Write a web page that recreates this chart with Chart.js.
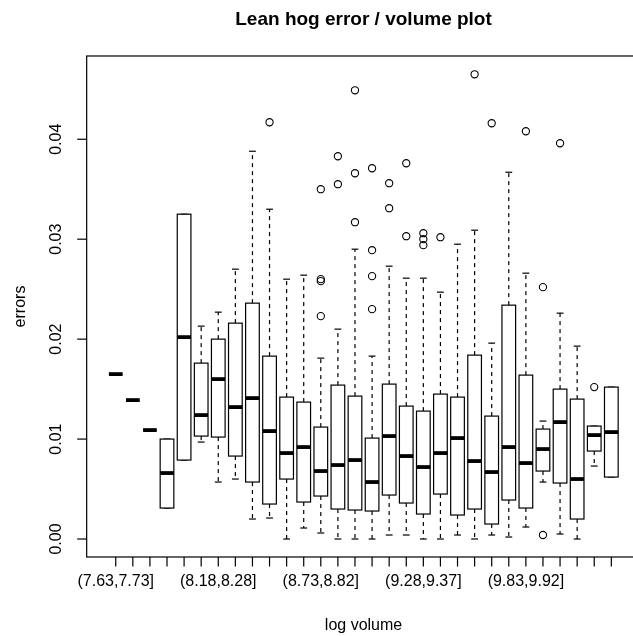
<!DOCTYPE html>
<html>
<head>
<meta charset="utf-8">
<script src="https://cdn.jsdelivr.net/npm/chart.js@4/dist/chart.umd.min.js"></script>
<style>
  html, body { margin: 0; padding: 0; background: #fff; }
  canvas { display: block; }
</style>
</head>
<body>
<canvas id="chart" width="633" height="636"></canvas>
<script>
// log volume bins (cut into 30 intervals)
var groups = ['(7.63,7.73]', '(7.73,7.82]', '(7.82,7.91]', '(7.91,8]', '(8,8.09]', '(8.09,8.18]',
  '(8.18,8.28]', '(8.28,8.37]', '(8.37,8.46]', '(8.46,8.55]', '(8.55,8.64]', '(8.64,8.73]',
  '(8.73,8.82]', '(8.82,8.92]', '(8.92,9.01]', '(9.01,9.1]', '(9.1,9.19]', '(9.19,9.28]',
  '(9.28,9.37]', '(9.37,9.47]', '(9.47,9.56]', '(9.56,9.65]', '(9.65,9.74]', '(9.74,9.83]',
  '(9.83,9.92]', '(9.92,10]', '(10,10.1]', '(10.1,10.2]', '(10.2,10.3]', '(10.3,10.4]'];

// five number summaries per bin
var lowWhisker = [0.0165, 0.0139, 0.0109, 0.0031, 0.0079, 0.0097, 0.0057, 0.0060, 0.0020, 0.0021,
  0.0000, 0.0011, 0.0006, 0.0000, 0.0000, 0.0000, 0.0004, 0.0004, 0.0000, 0.0000,
  0.0004, 0.0000, 0.0004, 0.0002, 0.0012, 0.0057, 0.0005, 0.0000, 0.0073, 0.0062];
var lowerHinge = [0.0165, 0.0139, 0.0109, 0.0031, 0.0079, 0.0103, 0.0102, 0.0083, 0.0057, 0.0035,
  0.0060, 0.0037, 0.0043, 0.0030, 0.0029, 0.0028, 0.0044, 0.0036, 0.0025, 0.0045,
  0.0024, 0.0030, 0.0015, 0.0039, 0.0031, 0.0068, 0.0056, 0.0020, 0.0088, 0.0062];
var medians = [0.0165, 0.0139, 0.0109, 0.0066, 0.0202, 0.0124, 0.0160, 0.0132, 0.0141, 0.0108,
  0.0086, 0.0092, 0.0068, 0.0074, 0.0079, 0.0057, 0.0103, 0.0083, 0.0072, 0.0086,
  0.0101, 0.0078, 0.0067, 0.0092, 0.0076, 0.0090, 0.0117, 0.0060, 0.0104, 0.0107];
var upperHinge = [0.0165, 0.0139, 0.0109, 0.0100, 0.0325, 0.0176, 0.0200, 0.0216, 0.0236, 0.0183,
  0.0142, 0.0137, 0.0112, 0.0154, 0.0143, 0.0101, 0.0155, 0.0133, 0.0128, 0.0145,
  0.0142, 0.0184, 0.0123, 0.0234, 0.0164, 0.0110, 0.0150, 0.0140, 0.0113, 0.0152];
var highWhisker = [0.0165, 0.0139, 0.0109, 0.0100, 0.0325, 0.0213, 0.0227, 0.0270, 0.0388, 0.0330,
  0.0260, 0.0264, 0.0181, 0.0210, 0.0290, 0.0183, 0.0273, 0.0261, 0.0261, 0.0247,
  0.0295, 0.0309, 0.0196, 0.0367, 0.0266, 0.0118, 0.0226, 0.0193, 0.0113, 0.0152];

// outliers: bin number (1-based) and value
var outlierBin = [10, 13, 13, 13, 13, 14, 14, 15, 15, 15, 16, 16, 16, 16,
  17, 17, 18, 18, 19, 19, 19, 20, 22, 23, 25, 26, 26, 27, 29];
var outlierValue = [0.0417, 0.0350, 0.0260, 0.0258, 0.0223, 0.0383, 0.0355, 0.0449, 0.0366, 0.0317,
  0.0371, 0.0289, 0.0263, 0.0230, 0.0356, 0.0331, 0.0376, 0.0303, 0.0306, 0.0300, 0.0294,
  0.0302, 0.0465, 0.0416, 0.0408, 0.0252, 0.0004, 0.0396, 0.0152];

var yTicks = [0, 0.01, 0.02, 0.03, 0.04];
var yTickLabels = ['0.00', '0.01', '0.02', '0.03', '0.04'];
var xLabelStep = 6;

var FONT = '"Liberation Sans", Arial, Helvetica, sans-serif';

function seg(ctx, x1, y1, x2, y2) {
  ctx.beginPath();
  ctx.moveTo(x1, y1);
  ctx.lineTo(x2, y2);
  ctx.stroke();
}

var boxPlugin = {
  id: 'boxes',
  beforeDatasetsDraw: function (chart) {
    var ctx = chart.ctx, x = chart.scales.x, y = chart.scales.y;
    var half = x.getPixelForValue(1.4) - x.getPixelForValue(1);
    var staple = half / 2;
    ctx.save();
    ctx.strokeStyle = '#000';
    for (var i = 0; i < medians.length; i++) {
      var cx = x.getPixelForValue(i + 1);
      var yLo = y.getPixelForValue(lowWhisker[i]);
      var yQ1 = y.getPixelForValue(lowerHinge[i]);
      var yMed = y.getPixelForValue(medians[i]);
      var yQ3 = y.getPixelForValue(upperHinge[i]);
      var yHi = y.getPixelForValue(highWhisker[i]);

      ctx.lineWidth = 1.2;
      ctx.setLineDash([4, 4]);
      if (yHi < yQ3) seg(ctx, cx, yQ3, cx, yHi);
      if (yLo > yQ1) seg(ctx, cx, yQ1, cx, yLo);
      ctx.setLineDash([]);
      seg(ctx, cx - staple, yHi, cx + staple, yHi);
      seg(ctx, cx - staple, yLo, cx + staple, yLo);

      ctx.fillStyle = '#fff';
      ctx.fillRect(cx - half, yQ3, 2 * half, yQ1 - yQ3);
      ctx.strokeRect(cx - half, yQ3, 2 * half, yQ1 - yQ3);

      ctx.lineWidth = 3.8;
      seg(ctx, cx - half, yMed, cx + half, yMed);
    }
    ctx.restore();
  },
  afterDraw: function (chart) {
    var ctx = chart.ctx, x = chart.scales.x, y = chart.scales.y;
    var left = x.getPixelForValue(-0.7), right = x.getPixelForValue(31.7);
    var top = chart.chartArea.top, bottom = chart.chartArea.bottom;
    ctx.save();
    ctx.strokeStyle = '#000';
    ctx.fillStyle = '#000';
    ctx.lineWidth = 1.2;
    ctx.strokeRect(left, top, right - left, bottom - top);

    // y axis
    ctx.font = '16px ' + FONT;
    ctx.textAlign = 'center';
    ctx.textBaseline = 'middle';
    yTicks.forEach(function (v, k) {
      var py = y.getPixelForValue(v);
      seg(ctx, left, py, left - 9.5, py);
      ctx.save();
      ctx.translate(57, py);
      ctx.rotate(-Math.PI / 2);
      ctx.fillText(yTickLabels[k], 0, 0);
      ctx.restore();
    });

    // x axis
    groups.forEach(function (g, i) {
      var px = x.getPixelForValue(i + 1);
      seg(ctx, px, bottom, px, bottom + 9.5);
      if (i % xLabelStep === 0) ctx.fillText(g, px, 582);
    });

    ctx.fillText('log volume', (left + right) / 2, 626);
    ctx.save();
    ctx.translate(21, (top + bottom) / 2);
    ctx.rotate(-Math.PI / 2);
    ctx.fillText('errors', 0, 0);
    ctx.restore();

    ctx.font = 'bold 19px ' + FONT;
    ctx.fillText('Lean hog error / volume plot', (left + right) / 2, 20);
    ctx.restore();
  }
};

var points = outlierBin.map(function (b, k) { return { x: b, y: outlierValue[k] }; });

new Chart(document.getElementById('chart'), {
  type: 'scatter',
  data: {
    datasets: [{
      data: points,
      pointStyle: 'circle',
      pointRadius: 3.6,
      pointBorderWidth: 1.1,
      pointBorderColor: '#000',
      pointBackgroundColor: 'rgba(0,0,0,0)'
    }]
  },
  options: {
    responsive: false,
    devicePixelRatio: 1,
    animation: false,
    layout: { padding: { left: 86, top: 56, right: 0, bottom: 79 } },
    scales: {
      x: { type: 'linear', min: -0.74, max: 30.97, display: false },
      y: { type: 'linear', min: -0.0018, max: 0.04833, display: false }
    },
    plugins: { legend: { display: false }, tooltip: { enabled: false } }
  },
  plugins: [boxPlugin]
});
</script>
</body>
</html>
